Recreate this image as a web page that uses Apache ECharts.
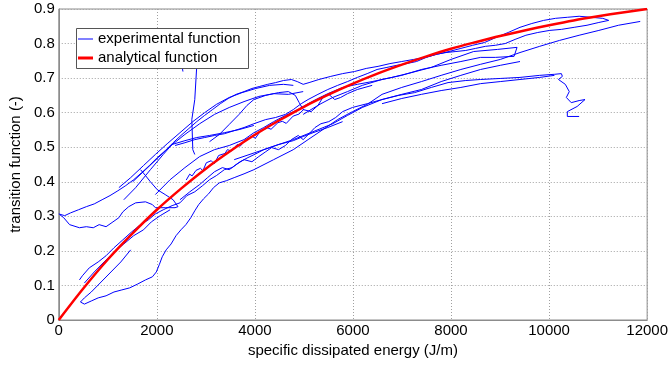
<!DOCTYPE html>
<html><head><meta charset="utf-8">
<script src="https://cdn.jsdelivr.net/npm/echarts@6/dist/echarts.min.js"></script>
<style>html,body{margin:0;padding:0;background:#fff}#c{width:671px;height:365px}</style>
</head><body><div id="c"></div>
<script>
// ---- data ----
const xAxisTitle = 'specific dissipated energy (J/m)';
const yAxisTitle = 'transition function (-)';
const seriesNames = ['experimental function', 'analytical function'];

const analyticalX = [0,500,1000,1500,2000,2500,3000,3500,4000,4500,5000,5500,6000,6500,7000,7500,8000,8500,9000,9500,10000,10500,11000,11500,12000];
const analyticalY = [0,0.091,0.175,0.250,0.319,0.381,0.438,0.489,0.536,0.578,0.617,0.652,0.684,0.713,0.739,0.763,0.785,0.804,0.822,0.838,0.853,0.867,0.879,0.890,0.900];

// experimental function strands [energy, transition]
const expA = [[0,0.307],[121,0.302],[241,0.310],[402,0.319],[563,0.328],[724,0.336],[884,0.348],[1045,0.360],[1206,0.374],[1367,0.389],[1528,0.406],[1688,0.426],[1849,0.447],[2010,0.470],[2171,0.490],[2332,0.513],[2492,0.534],[2653,0.554],[2814,0.574],[2975,0.592],[3136,0.609],[3296,0.626],[3457,0.641],[3618,0.653],[3779,0.661],[3940,0.670],[4100,0.676],[4261,0.682],[4422,0.687],[4583,0.693],[4744,0.696],[4864,0.690],[4985,0.682],[5105,0.687],[5306,0.696],[5548,0.705],[5789,0.713],[6030,0.719],[6271,0.728],[6512,0.734],[6754,0.742],[6995,0.748],[7236,0.754],[7477,0.760],[7718,0.769],[7960,0.777],[8201,0.786],[8442,0.795],[8683,0.803],[8924,0.818],[9166,0.832],[9407,0.847],[9648,0.858],[9889,0.867],[10130,0.873],[10372,0.876],[10613,0.879],[10854,0.876],[11095,0.873],[11216,0.867],[11015,0.861]];
const expB = [[11015,0.861],[10774,0.853],[10512,0.847],[10251,0.841],[10010,0.838],[9769,0.832],[9527,0.824],[9306,0.812],[9105,0.800],[8904,0.795],[8703,0.792],[8502,0.786],[8301,0.780],[8100,0.777],[7899,0.774],[7698,0.769],[7497,0.760],[7296,0.748],[7095,0.742],[6894,0.737],[6693,0.731],[6492,0.725],[6291,0.713],[6090,0.702],[5889,0.690],[5688,0.679],[5487,0.667],[5286,0.653],[5085,0.638],[4945,0.626],[4784,0.609],[4623,0.595],[4422,0.586],[4221,0.580],[3980,0.568],[3779,0.557],[3578,0.548],[3377,0.539],[3176,0.534],[2975,0.528],[2774,0.522],[2573,0.513],[2372,0.505]];
const expC = [[1467,0.203],[1266,0.168],[1065,0.139],[864,0.110],[663,0.081],[523,0.064],[442,0.052],[523,0.046],[663,0.055],[804,0.064],[965,0.070],[1126,0.081],[1286,0.087],[1447,0.093],[1608,0.104],[1769,0.116],[1910,0.125],[1990,0.139],[2050,0.160],[2111,0.183],[2191,0.203],[2291,0.220],[2392,0.244],[2492,0.261],[2593,0.276],[2693,0.296],[2774,0.316],[2854,0.334],[2955,0.351],[3055,0.365],[3156,0.383],[3276,0.397],[3417,0.403],[3578,0.412],[3779,0.423],[3980,0.435],[4382,0.464],[4784,0.493],[5085,0.522],[5387,0.551],[5688,0.580],[5990,0.603],[6291,0.624],[6593,0.653],[6995,0.673],[7397,0.690],[7799,0.708],[8201,0.725],[8603,0.740],[9005,0.754],[9407,0.774],[9809,0.792],[10211,0.809],[10613,0.824],[11015,0.838],[11417,0.853],[11859,0.864]];
const expD = [[3578,0.464],[4181,0.493],[4784,0.522],[5186,0.545],[5588,0.568],[5889,0.592],[6191,0.615],[6593,0.638],[6935,0.650],[7256,0.658],[7598,0.673],[7939,0.687],[8301,0.693],[8603,0.696],[9005,0.699],[9407,0.702],[9809,0.708],[10110,0.711],[10251,0.713],[10271,0.705],[10191,0.696],[10331,0.682],[10412,0.661],[10352,0.644],[10452,0.629],[10613,0.635],[10733,0.638],[10573,0.618],[10372,0.603],[10372,0.589],[10613,0.589]];
const expD2 = [[6593,0.626],[6995,0.641],[7397,0.653],[7799,0.664],[8201,0.673],[8603,0.684],[9005,0.690],[9407,0.696],[9809,0.702],[10110,0.708]];
const expU1 = [[1970,0.363],[2271,0.406],[2573,0.441],[2874,0.473],[3176,0.493],[3477,0.505],[3779,0.522],[3980,0.542],[4181,0.557],[4382,0.574],[4623,0.592],[4884,0.609],[5085,0.626],[5286,0.641],[5487,0.655],[5789,0.673],[6090,0.682],[6392,0.690],[6794,0.702],[7196,0.716],[7598,0.731],[7999,0.754],[8462,0.777],[8945,0.783],[9347,0.789],[9286,0.763],[8904,0.760],[8603,0.760],[8201,0.748],[7799,0.737],[7397,0.725],[6995,0.708],[6593,0.696],[6191,0.679],[5889,0.661],[5588,0.644],[5347,0.626],[5146,0.609],[4985,0.595]];
const expU2 = [[2472,0.348],[2673,0.371],[2874,0.392],[3035,0.412],[3176,0.429],[3337,0.441],[3477,0.435],[3618,0.450],[3779,0.464],[3940,0.458],[4080,0.473],[4221,0.487],[4342,0.499],[4482,0.493],[4623,0.505],[4744,0.522],[4884,0.534],[4985,0.522],[5105,0.539],[5226,0.557],[5347,0.568],[5507,0.574],[5648,0.586],[5789,0.603],[5990,0.615],[6291,0.626],[6593,0.638],[6995,0.653],[7397,0.667],[7799,0.690],[8201,0.708],[8603,0.725],[9005,0.737],[9407,0.748]];
const expU3 = [[3075,0.516],[3276,0.537],[3477,0.566],[3678,0.595],[3839,0.621],[3980,0.638],[4221,0.650],[4482,0.658],[4683,0.661],[4824,0.650],[4904,0.629],[4985,0.609],[5146,0.603],[5286,0.621],[5387,0.644],[5507,0.653],[5628,0.638],[5749,0.644],[5889,0.655],[6090,0.667],[6392,0.679]];
const expM = [[2600,0.405],[2670,0.422],[2720,0.417],[2800,0.433],[2890,0.439],[2940,0.432],[3010,0.455],[3110,0.461],[3170,0.452],[3260,0.476],[3390,0.482],[3440,0.493],[3520,0.489],[3640,0.508],[3700,0.503],[3830,0.524],[3950,0.531],[4010,0.526],[4120,0.548],[4260,0.556],[4330,0.552],[4470,0.571],[4560,0.575],[4640,0.569],[4780,0.590],[4900,0.596],[5000,0.610]];
const expW = [[20,0.305],[101,0.296],[221,0.276],[422,0.267],[563,0.270],[704,0.267],[824,0.276],[965,0.270],[1106,0.284],[1226,0.296],[1307,0.313],[1427,0.328],[1568,0.339],[1769,0.342],[1910,0.334],[1970,0.325],[2171,0.325],[2372,0.325],[2432,0.328],[2332,0.348],[2171,0.363],[2010,0.377],[1869,0.400],[1769,0.418],[1668,0.435]];
const expE1 = [[422,0.116],[482,0.128],[623,0.151],[804,0.168],[965,0.186],[1126,0.209],[1307,0.232],[1487,0.255],[1668,0.276],[1829,0.290],[1970,0.307],[2131,0.319],[2312,0.331],[2472,0.339],[2613,0.360],[2774,0.371],[2935,0.389],[3075,0.406],[3216,0.418],[3377,0.435],[3538,0.441],[3698,0.458],[3859,0.470],[4020,0.481],[4181,0.493],[4482,0.508],[4784,0.519],[4985,0.531],[5186,0.542],[5487,0.557],[5789,0.574]];
const expE2 = [[523,0.107],[724,0.139],[925,0.168],[1126,0.197],[1327,0.220],[1528,0.244],[1729,0.261],[1889,0.284],[2070,0.302],[2271,0.319]];
const expA2 = [[1226,0.383],[1467,0.412],[1729,0.447],[1970,0.479],[2211,0.510],[2472,0.542],[2734,0.574],[2975,0.600],[3216,0.624],[3477,0.644],[3739,0.658],[4020,0.670],[4301,0.679],[4583,0.682],[4784,0.679]];
const expA3 = [[1508,0.400],[1769,0.435],[2030,0.470],[2291,0.505],[2573,0.537],[2874,0.568],[3176,0.595],[3477,0.615],[3779,0.632],[4080,0.647],[4382,0.655],[4683,0.653],[4985,0.661]];
const expA4 = [[1327,0.348],[1568,0.383],[1869,0.435],[2131,0.479],[2312,0.508],[2573,0.519],[2814,0.528],[3075,0.534],[3377,0.542],[3678,0.551],[3980,0.563]];
const pointerLine = [[2814,0.734],[2774,0.638],[2714,0.580],[2734,0.493],[2774,0.479]];
const pointerTick = [[2513,0.736],[2533,0.719]];

const expStrands = [expA, expB, expC, expD, expD2, expU1, expU2, expU3, expM, expW, expE1, expE2, expA2, expA3, expA4, pointerLine, pointerTick];

// ---- chart ----
const FONT = '"Liberation Sans", Arial, sans-serif';
const chart = echarts.init(document.getElementById('c'), null, {renderer: 'canvas'});
const series = expStrands.map(s => ({
  name: seriesNames[0], type: 'line', data: s, symbol: 'none', showSymbol: false,
  lineStyle: {color: '#0000ff', width: 1}, itemStyle: {color: '#0000ff'}, z: 2, silent: true
}));
series.push({
  name: seriesNames[1], type: 'line', data: analyticalX.map((x, i) => [x, analyticalY[i]]),
  symbol: 'none', showSymbol: false, smooth: 0.3,
  lineStyle: {color: '#ff0000', width: 2.5}, itemStyle: {color: '#ff0000'}, z: 3
});
const legendText = {fontFamily: FONT, fontSize: 15, color: '#000', lineHeight: 18};
chart.setOption({
  animation: false,
  backgroundColor: '#fff',
  textStyle: {fontFamily: FONT},
  grid: {left: 52, right: 22, top: 9, bottom: 45, show: true, borderColor: '#8c8c8c', borderWidth: 1},
  graphic: [{
    type: 'rect', z: 50, silent: true,
    shape: {x: 76.5, y: 28.5, width: 172, height: 40},
    style: {fill: '#fff', stroke: '#555', lineWidth: 1}
  }],
  legend: [
    {data: [seriesNames[0]], left: 78, top: 30, padding: 0, icon: 'rect', itemWidth: 15, itemHeight: 1,
     textStyle: legendText, z: 60, selectedMode: false},
    {data: [seriesNames[1]], left: 78, top: 49, padding: 0, icon: 'rect', itemWidth: 15, itemHeight: 3,
     textStyle: legendText, z: 60, selectedMode: false}
  ],
  xAxis: {
    type: 'value', min: 0, max: 12000, interval: 2000,
    name: xAxisTitle, nameLocation: 'middle', nameGap: 16,
    nameTextStyle: {fontFamily: FONT, fontSize: 15, color: '#000'},
    axisLine: {show: true, lineStyle: {color: '#8c8c8c'}},
    axisTick: {show: false},
    axisLabel: {fontFamily: FONT, fontSize: 15, color: '#000', margin: 3, formatter: v => String(v)},
    splitLine: {show: true, lineStyle: {color: '#a0a0a0', type: [1, 2], width: 1}}
  },
  yAxis: {
    type: 'value', min: 0, max: 0.9, interval: 0.1,
    name: yAxisTitle, nameLocation: 'middle', nameGap: 29,
    nameTextStyle: {fontFamily: FONT, fontSize: 15, color: '#000'},
    axisLine: {show: true, lineStyle: {color: '#8c8c8c'}},
    axisTick: {show: false},
    axisLabel: {fontFamily: FONT, fontSize: 15, color: '#000', margin: 4},
    splitLine: {show: true, lineStyle: {color: '#a0a0a0', type: [1, 2], width: 1}}
  },
  series: series
});
</script></body></html>
